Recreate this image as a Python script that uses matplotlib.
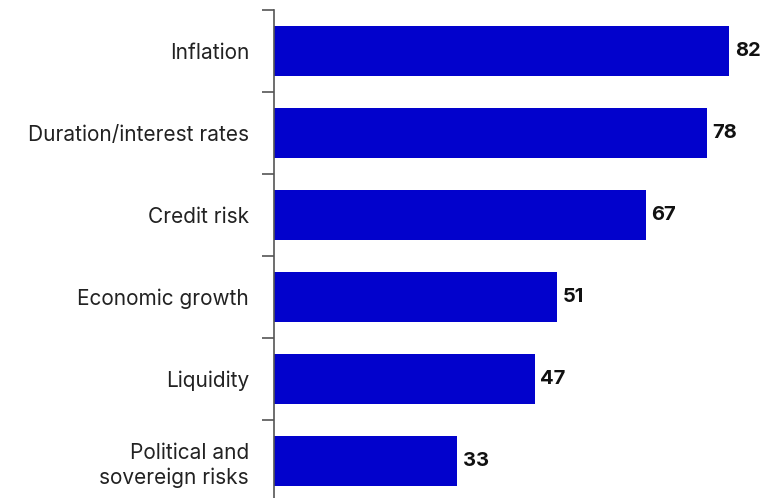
import matplotlib.pyplot as plt
import numpy as np

# categories and values (top to bottom)
categories = ['Inflation', 'Duration/interest rates', 'Credit risk',
              'Economic growth', 'Liquidity', 'Political and\nsovereign risks']
values = [82, 78, 67, 51, 47, 33]

plt.rcParams['font.family'] = ['Inter', 'DejaVu Sans']

fig = plt.figure(figsize=(7.77, 4.98), dpi=100)
ax = fig.add_axes([274/777, -4/498, 503/777, 492/498])

y_pos = np.arange(len(categories))
ax.barh(y_pos, values, height=0.6, color='#0202CC')

# value labels at bar ends
for y, v in zip(y_pos, values):
    ax.text(v + 1.0, y, str(v), va='center', ha='left',
            fontsize=14.5, fontweight='bold', color='#111111')

ax.set_xlim(0, 90.6)
ax.set_ylim(len(categories) - 0.5, -0.5)

ax.set_yticks(y_pos)
ax.set_yticklabels(categories, fontsize=15, color='#222222', linespacing=1.3)
ax.set_yticks(np.arange(len(categories) + 1) - 0.5, minor=True)
ax.tick_params(axis='y', which='major', length=0, pad=18)
ax.tick_params(axis='y', which='minor', length=9, width=1.2, color='#555555')
ax.set_xticks([])

for s in ['top', 'right', 'bottom']:
    ax.spines[s].set_visible(False)
ax.spines['left'].set_color('#555555')
ax.spines['left'].set_linewidth(1.2)

fig.savefig('out.png', dpi=100)
